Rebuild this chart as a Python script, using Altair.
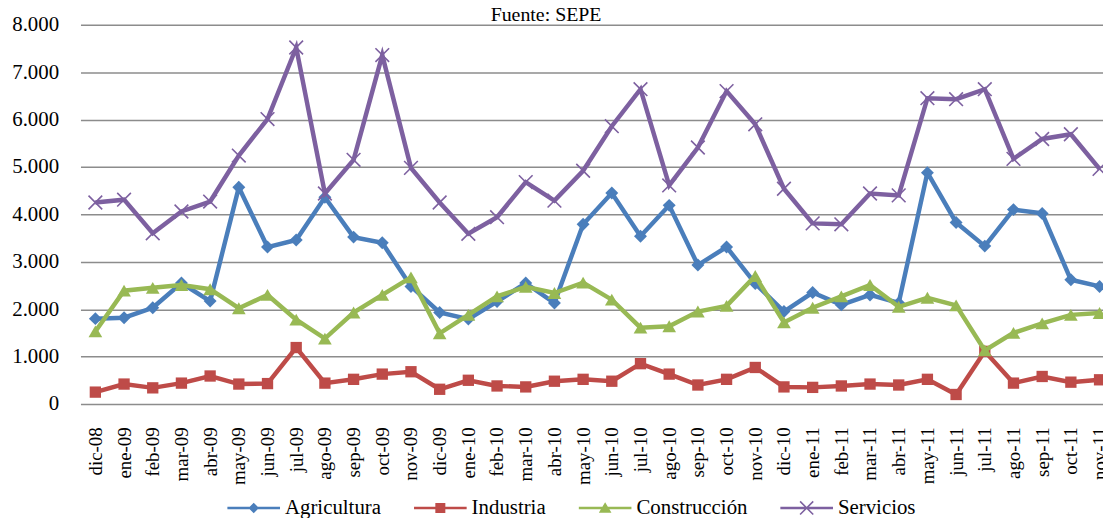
import json
import altair as alt
import pandas as pd

meses = ["dic-08", "ene-09", "feb-09", "mar-09", "abr-09", "may-09", "jun-09", "jul-09",
         "ago-09", "sep-09", "oct-09", "nov-09", "dic-09", "ene-10", "feb-10", "mar-10",
         "abr-10", "may-10", "jun-10", "jul-10", "ago-10", "sep-10", "oct-10", "nov-10",
         "dic-10", "ene-11", "feb-11", "mar-11", "abr-11", "may-11", "jun-11", "jul-11",
         "ago-11", "sep-11", "oct-11", "nov-11"]

agricultura = [1800, 1820, 2030, 2550, 2170, 4570, 3310, 3460, 4360, 3520, 3400, 2480,
               1930, 1790, 2160, 2550, 2130, 3790, 4450, 3540, 4190, 2930, 3310, 2540,
               1950, 2350, 2090, 2300, 2130, 4880, 3830, 3330, 4100, 4020, 2620, 2480]
industria = [250, 420, 340, 440, 590, 420, 430, 1190, 440, 520, 630, 680,
             310, 500, 380, 360, 480, 520, 480, 850, 630, 400, 520, 770,
             360, 350, 380, 420, 400, 520, 200, 1110, 440, 580, 460, 510]
construccion = [1530, 2390, 2450, 2510, 2420, 2020, 2300, 1780, 1380, 1930, 2300, 2670,
                1490, 1880, 2270, 2470, 2340, 2560, 2200, 1610, 1640, 1950, 2070, 2700,
                1720, 2030, 2270, 2510, 2050, 2240, 2080, 1130, 1500, 1700, 1880, 1920]
servicios = [4250, 4310, 3600, 4060, 4270, 5240, 6010, 7520, 4440, 5150, 7360, 4980,
             4250, 3590, 3940, 4680, 4290, 4920, 5860, 6640, 4610, 5410, 6600, 5900,
             4540, 3810, 3790, 4440, 4400, 6450, 6430, 6640, 5170, 5590, 5690, 4960]

series = ["Agricultura", "Industria", "Construcción", "Servicios"]
valores = [agricultura, industria, construccion, servicios]
colores = ["#4A7EBB", "#BE4B48", "#98B954", "#7D60A0"]
y_ticks = [0, 1000, 2000, 3000, 4000, 5000, 6000, 7000, 8000]

rows = []
for s, vals in zip(series, valores):
    for i, (m, v) in enumerate(zip(meses, vals)):
        rows.append({"i": i, "mes": m, "serie": s, "valor": v})
df = pd.DataFrame(rows)

FONT = "Liberation Serif"

x_enc = alt.X(
    "i:Q",
    scale=alt.Scale(domain=[-0.519, 35.12], nice=False, zero=False),
    axis=alt.Axis(
        values=list(range(len(meses))),
        labelExpr=json.dumps(meses) + "[datum.value]",
        labelAngle=270, labelAlign="right", labelBaseline="middle",
        labelPadding=23, ticks=False, domain=False, grid=False,
        labelOverlap=False, labelFlush=False,
        labelFont=FONT, labelFontSize=19, labelColor="black", title=None,
    ),
)
y_enc = alt.Y(
    "valor:Q",
    scale=alt.Scale(domain=[0, 8000], nice=False),
    axis=alt.Axis(
        values=y_ticks,
        labelExpr="datum.value == 0 ? '0' : replace(format(datum.value, ',d'), ',', '.')",
        grid=True, gridColor="#8c8c8c", gridWidth=1.5,
        domain=False, ticks=False, labelPadding=22,
        labelFont=FONT, labelFontSize=21, labelColor="black", title=None,
    ),
)

markers = [
    dict(shape="diamond", size=170, filled=True, strokeWidth=0),
    dict(shape="square", size=130, filled=True, strokeWidth=0),
    dict(shape="triangle-up", size=190, filled=True, strokeWidth=0),
    dict(shape="M-1,-1L1,1M-1,1L1,-1", size=190, filled=False, strokeWidth=1.6),
]

base = alt.Chart(df)
layers = []
for s, c, mk in zip(series, colores, markers):
    sub = base.transform_filter(alt.datum.serie == s)
    layers.append(sub.mark_line(color=c, strokeWidth=4.5).encode(x=x_enc, y=y_enc))
    layers.append(sub.mark_point(color=c, opacity=1, **mk).encode(x=x_enc, y=y_enc))

# legend symbols: line + marker (units scaled by sqrt(size)/2)
lt = "M-1,-0.047H1V0.047H-1Z"
legend_paths = [
    lt + "M0,-0.2L0.2,0L0,0.2L-0.2,0Z",
    lt + "M-0.19,-0.19H0.19V0.19H-0.19Z",
    lt + "M0,-0.22L0.24,0.18H-0.24Z",
    lt + "M-0.229,-0.271L0.271,0.229L0.229,0.271L-0.271,-0.229Z"
       + "M-0.229,0.271L-0.271,0.229L0.229,-0.271L0.271,-0.229Z",
]
leg = alt.Legend(
    title=None, orient="none", legendX=148, legendY=460, direction="horizontal",
    labelFont=FONT, labelFontSize=21, labelColor="black", labelOffset=5,
    symbolSize=2809, symbolStrokeWidth=0, columnPadding=33, labelLimit=400,
)
legend_layer = base.transform_filter("false").mark_point(
    filled=True, opacity=1, strokeWidth=0
).encode(
    color=alt.Color("serie:N", scale=alt.Scale(domain=series, range=colores), legend=leg),
    shape=alt.Shape("serie:N", scale=alt.Scale(domain=series, range=legend_paths), legend=leg),
)
layers.append(legend_layer)

chart = alt.layer(*layers).properties(
    width=1030, height=382,
    padding={"left": 73, "top": 15, "right": 0, "bottom": 113},
    autosize=alt.AutoSizeParams(type="none"),
    background="white",
    title=alt.TitleParams(
        "Fuente: SEPE", font=FONT, fontSize=20, fontWeight="normal", color="black",
        anchor="middle", dx=-46, offset=-11,
    ),
).configure_view(strokeWidth=0)

chart.save("out.html", embed_options={"renderer": "svg", "actions": False})
